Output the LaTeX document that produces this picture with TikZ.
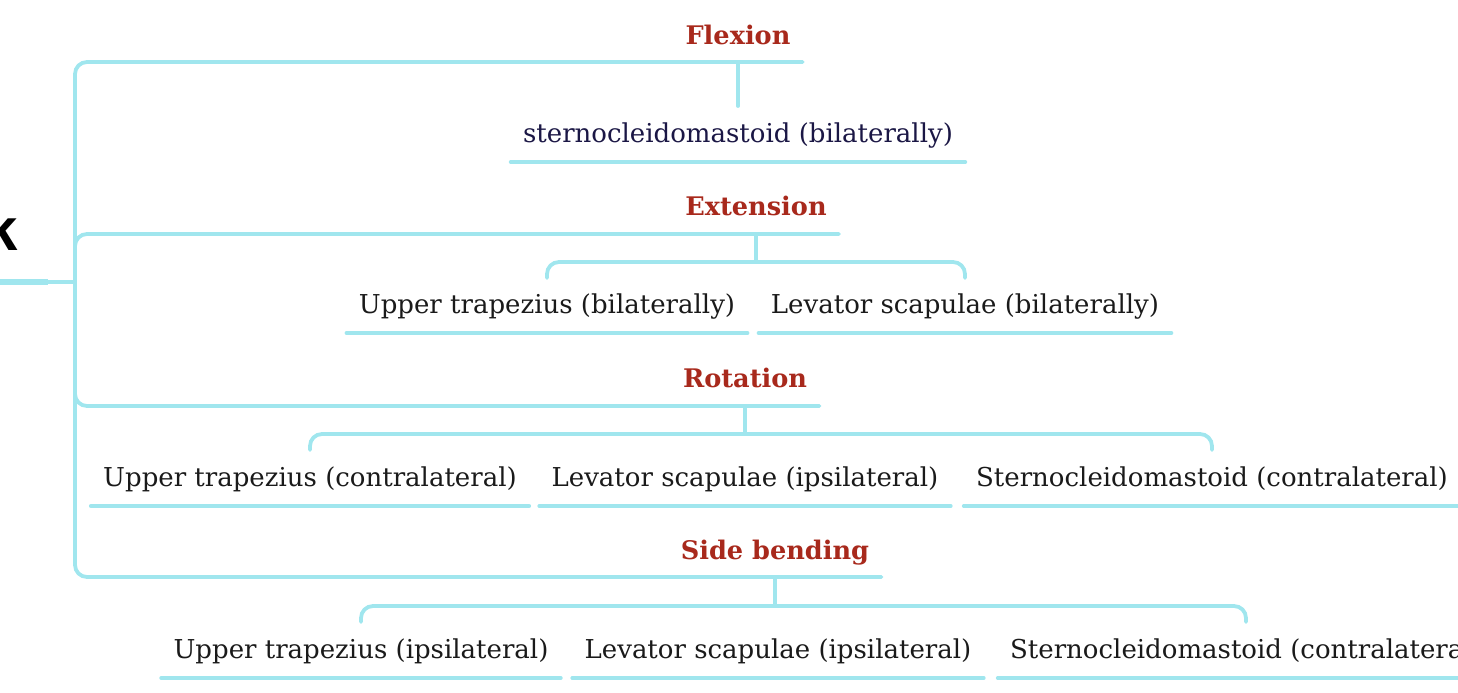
\documentclass[tikz,border=0pt]{standalone}
\usepackage{fontspec}
\setmainfont{DejaVu Serif}
\newfontfamily\rootfont{Liberation Sans}
\definecolor{branchcyan}{HTML}{A0E6EE}
\definecolor{movered}{HTML}{A8291C}
\definecolor{navyink}{HTML}{1B1745}
\definecolor{inkgrey}{HTML}{1A1A1A}
\tikzset{
  branch/.style={draw=branchcyan, line width=1.9pt, line cap=round},
  move/.style={font=\fontsize{12.8}{15}\selectfont\bfseries, text=movered,
    anchor=base, inner xsep=6pt},
  muscle/.style={font=\fontsize{13}{15}\selectfont, text=inkgrey,
    anchor=base, inner xsep=6pt},
}
\begin{document}
\begin{tikzpicture}[x=0.5pt, y=-0.5pt]
  \useasboundingbox (0,0) rectangle (1458,692);
  % root, cut off at the left edge
  \node[font=\rootfont\bfseries\fontsize{30}{32}\selectfont,
    anchor=base east, inner sep=0] (neck) at (18,250) {Neck};
  \coordinate (spine) at (75,282);
  \draw[branch, line width=2.8pt, line cap=butt]
    ([yshift=-16pt]neck.base west) -- ([yshift=-16pt, xshift=15pt]neck.base east)
    coordinate (neckend);
  \draw[branch] (neckend) -- (spine);

  % movements
  \node[move] (flex) at (738,44) {Flexion};
  \node[move] (ext)  at (756,215) {Extension};
  \node[move] (rot)  at (745,387) {Rotation};
  \node[move] (side) at (775,559) {Side bending};

  \draw[branch, rounded corners=6pt]
    (flex.east |- 0,62) -- (75,62) -- (75,577) -- (side.east |- 0,577);
  \draw[branch, rounded corners=6pt]
    (75,262) -- (75,234) -- (ext.east |- 0,234);
  \draw[branch, rounded corners=6pt]
    (75,380) -- (75,406) -- (rot.east |- 0,406);

  % muscles
  \node[muscle, text=navyink] (scmbi) at (738,142) {sternocleidomastoid (bilaterally)};
  \node[muscle] (utbi)  at (547,313)  {Upper trapezius (bilaterally)};
  \node[muscle] (lsbi)  at (965,313)  {Levator scapulae (bilaterally)};
  \node[muscle] (utcon) at (310,486)  {Upper trapezius (contralateral)};
  \node[muscle] (lsrot) at (745,486)  {Levator scapulae (ipsilateral)};
  \node[muscle] (scmrot) at (1212,486) {Sternocleidomastoid (contralateral)};
  \node[muscle] (utips) at (361,658)  {Upper trapezius (ipsilateral)};
  \node[muscle] (lsside) at (778,658) {Levator scapulae (ipsilateral)};
  \node[muscle] (scmside) at (1246,658) {Sternocleidomastoid (contralateral)};

  \foreach \m in {scmbi,utbi,lsbi,utcon,lsrot,scmrot,utips,lsside,scmside}
    \draw[branch] ([yshift=-10pt]\m.base west) -- ([yshift=-10pt]\m.base east);

  % stems and brackets
  \draw[branch] (flex |- 0,62) -- (scmbi |- 0,106);

  \draw[branch] (ext |- 0,234) -- (ext |- 0,262);
  \draw[branch, rounded corners=6pt]
    (utbi |- 0,278) -- (utbi |- 0,262) -- (lsbi |- 0,262) -- (lsbi |- 0,278);

  \draw[branch] (rot |- 0,406) -- (rot |- 0,434);
  \draw[branch, rounded corners=6pt]
    (utcon |- 0,450) -- (utcon |- 0,434) -- (scmrot |- 0,434) -- (scmrot |- 0,450);

  \draw[branch] (side |- 0,577) -- (side |- 0,606);
  \draw[branch, rounded corners=6pt]
    (utips |- 0,622) -- (utips |- 0,606) -- (scmside |- 0,606) -- (scmside |- 0,622);
\end{tikzpicture}
\end{document}
